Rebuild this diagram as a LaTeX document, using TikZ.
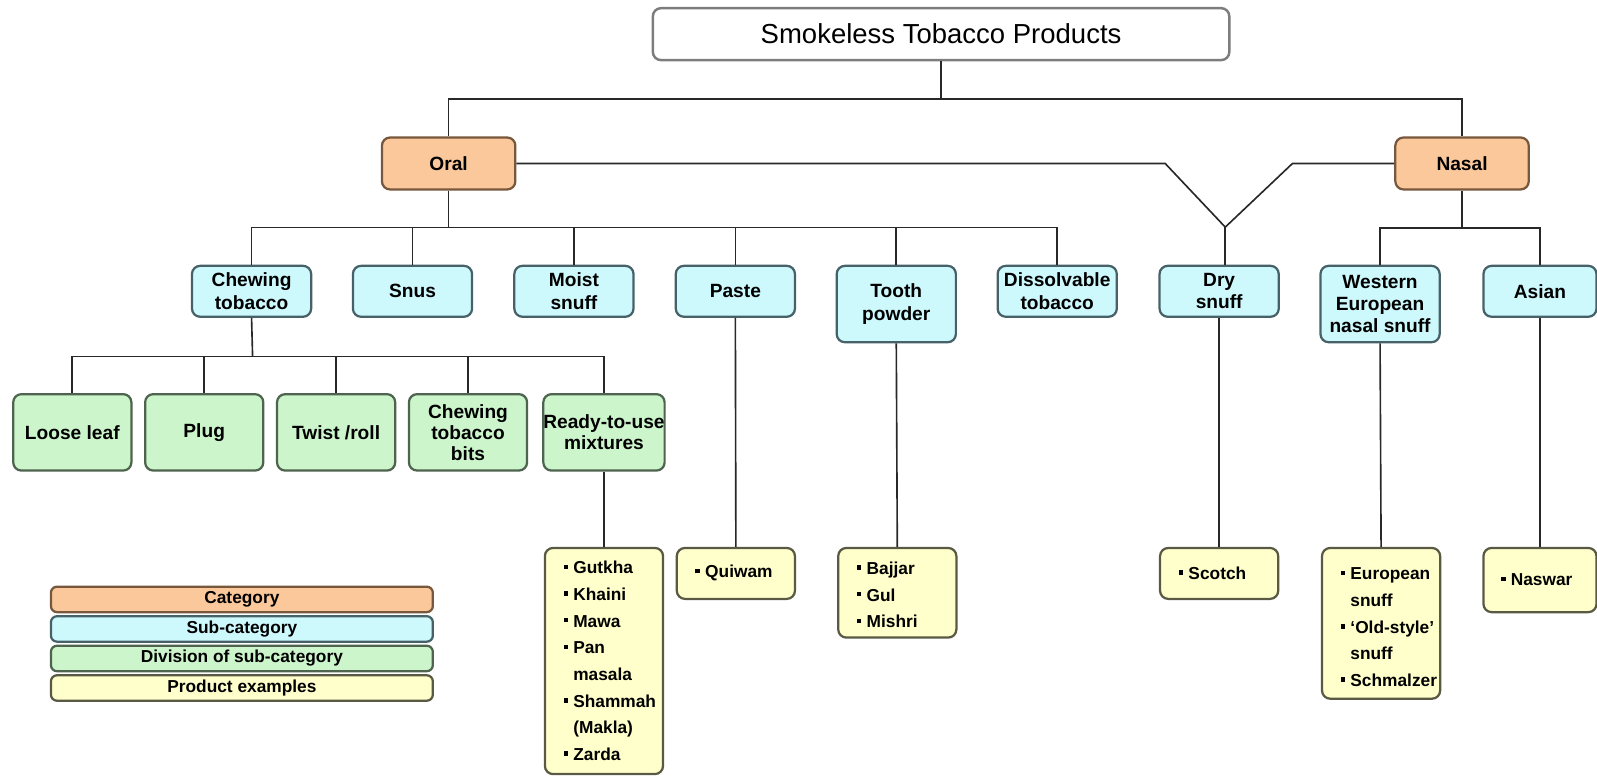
\documentclass[tikz,border=0pt]{standalone}
\usepackage{fontspec}
\setmainfont{Liberation Sans}
\definecolor{catfill}{RGB}{250,200,155}
\definecolor{catline}{RGB}{120,88,60}
\definecolor{subfill}{RGB}{205,248,252}
\definecolor{subline}{RGB}{70,98,104}
\definecolor{divfill}{RGB}{204,245,204}
\definecolor{divline}{RGB}{78,100,78}
\definecolor{prodfill}{RGB}{255,255,204}
\definecolor{prodline}{RGB}{90,90,68}
\definecolor{titleline}{RGB}{125,125,125}
\definecolor{conn}{RGB}{40,40,40}
\newcommand\bl{\rule[2.3pt]{2.2pt}{2.2pt}\hspace{2.6pt}}
\newcommand\ind{\hspace{4.8pt}}
\tikzset{
  sz/.style 2 args={minimum width=#1*0.5pt, minimum height=#2*0.5pt},
  anybox/.style={rounded corners=4pt, line width=1.1pt, inner sep=0pt, align=center,
    font=\bfseries\fontsize{9.4}{11}\selectfont},
  titlebox/.style={anybox, draw=titleline, fill=white, line width=1.2pt,
    font=\fontsize{13.5}{16}\selectfont},
  catbox/.style={anybox, draw=catline, fill=catfill},
  subbox/.style={anybox, draw=subline, fill=subfill},
  divbox/.style={anybox, draw=divline, fill=divfill, font=\bfseries\fontsize{9.4}{10.4}\selectfont},
  prodbox/.style={anybox, draw=prodline, fill=prodfill},
  prodtext/.style={anchor=west, align=left, inner sep=0pt,
    font=\bfseries\fontsize{8.5}{13.1}\selectfont},
  legbox/.style={anybox, rounded corners=3pt, font=\bfseries\fontsize{8.5}{10}\selectfont},
  link/.style={draw=conn, line width=0.8pt}
}
\begin{document}
\begin{tikzpicture}[x=0.5pt,y=-0.5pt]
\useasboundingbox[fill=white] (0,0) rectangle (1568,762);

% top levels
\node[titlebox, sz={566}{51}] (title) at (924,33.5) {Smokeless Tobacco Products};
\node[catbox, sz={131}{51}] (oral) at (440.5,160.5) {Oral};
\node[catbox, sz={131}{51}] (nasal) at (1435.5,160.5) {Nasal};

% sub-categories
\node[subbox, sz={117}{50}] (chew) at (247,286) {Chewing\\tobacco};
\node[subbox, sz={117}{50}] (snus) at (405,286) {Snus};
\node[subbox, sz={117}{50}] (moist) at (563.5,286) {Moist\\snuff};
\node[subbox, sz={117}{50}] (paste) at (722,286) {Paste};
\node[subbox, sz={117}{75}] (tooth) at (880,298.5) {Tooth\\powder};
\node[subbox, sz={117}{50}] (diss) at (1038,286) {Dissolvable\\tobacco};
\node[subbox, sz={117}{50}] (dry) at (1197,286) {Dry\\snuff};
\node[subbox, sz={117}{75}] (west) at (1355,298.5) {Western\\European\\nasal snuff};
\node[subbox, sz={111}{50}] (asian) at (1512,286) {Asian};

% divisions
\node[divbox, sz={116}{75}] (loose) at (71,424.5) {Loose leaf};
\node[divbox, sz={116}{75}] (plug) at (200.5,424.5) {Plug};
\node[divbox, sz={116}{75}] (twist) at (330,424.5) {Twist /roll};
\node[divbox, sz={116}{75}] (bits) at (459.5,424.5) {Chewing\\tobacco\\bits};
\node[divbox, sz={116}{75}] (ready) at (593,424.5) {Ready-to-use\\mixtures};

% product examples
\node[prodbox, sz={116}{222}] (mix) at (593,649) {};
\node[prodtext] (mixt) at ([xshift=9.5pt]mix.west) {\bl Gutkha\\ \bl Khaini\\ \bl Mawa\\ \bl Pan\\ \ind masala\\ \bl Shammah\\ \ind(Makla)\\ \bl Zarda};
\node[prodbox, sz={116}{50}] (quiwam) at (722.5,563) {};
\node[prodtext] (quiwamt) at ([xshift=9.5pt]quiwam.west) {\bl Quiwam};
\node[prodbox, sz={116}{88}] (bajjar) at (881,582) {};
\node[prodtext] (bajjart) at ([xshift=9.5pt,yshift=-1pt]bajjar.west) {\bl Bajjar\\ \bl Gul\\ \bl Mishri};
\node[prodbox, sz={116}{50}] (scotch) at (1197,563) {};
\node[prodtext] (scotcht) at ([xshift=9.5pt]scotch.west) {\bl Scotch};
\node[prodbox, sz={116}{148}] (euro) at (1356,612) {};
\node[prodtext] (eurot) at ([xshift=9.5pt,yshift=-2pt]euro.west) {\bl European\\ \ind snuff\\ \bl `Old-style'\\ \ind snuff\\ \bl Schmalzer};
\node[prodbox, sz={111}{63}] (naswar) at (1512,569.5) {};
\node[prodtext] (naswart) at ([xshift=9pt]naswar.west) {\bl Naswar};

% legend
\node[legbox, draw=catline, fill=catfill, sz={375}{25}] (legcat) at (237.5,588.5) {Category};
\node[legbox, draw=subline, fill=subfill, sz={375}{25}] (legsub) at (237.5,617.5) {Sub-category};
\node[legbox, draw=divline, fill=divfill, sz={375}{25}] (legdiv) at (237.5,646.5) {Division of sub-category};
\node[legbox, draw=prodline, fill=prodfill, sz={375}{25}] (legprod) at (237.5,675.5) {Product examples};

% junction coordinates
\coordinate (busA) at (924,97);
\coordinate (busB) at (440.5,223.5);
\coordinate (busC) at (1435.5,224);
\coordinate (busD) at (248,350);
\coordinate (vL) at (1144,160.5);
\coordinate (vV) at (1203,223);
\coordinate (vR) at (1269,160.5);

% connectors
\draw[link] (title.south) -- (busA);
\draw[link] (oral.north) |- (busA) -| (nasal.north);

\draw[link] (oral.south) -- (busB);
\draw[link] (chew.north) |- (busB) -| (diss.north);
\draw[link] (snus.north) -- (snus.north |- busB);
\draw[link] (moist.north) -- (moist.north |- busB);
\draw[link] (paste.north) -- (paste.north |- busB);
\draw[link] (tooth.north) -- (tooth.north |- busB);

\draw[link] (oral.east) -- (vL) -- (vV) -- (vR) -- (nasal.west);
\draw[link] (vV) -- (vV |- dry.north);

\draw[link] (nasal.south) -- (busC);
\draw[link] (west.north) |- (busC) -| (asian.north);

\draw[link] (chew.south) -- (busD);
\draw[link] (loose.north) |- (busD) -| (ready.north);
\draw[link] (plug.north) -- (plug.north |- busD);
\draw[link] (twist.north) -- (twist.north |- busD);
\draw[link] (bits.north) -- (bits.north |- busD);

\draw[link] (ready.south) -- (mix.north);
\draw[link] (paste.south) -- (quiwam.north);
\draw[link] (tooth.south) -- (bajjar.north);
\draw[link] (dry.south) -- (scotch.north);
\draw[link] (west.south) -- (euro.north);
\draw[link] (asian.south) -- (naswar.north);
\end{tikzpicture}
\end{document}
